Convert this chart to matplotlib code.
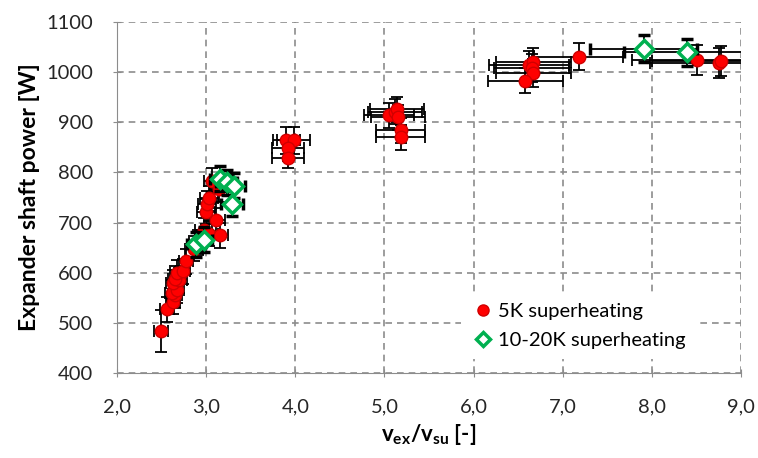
import matplotlib
matplotlib.use("Agg")
import matplotlib.pyplot as plt

plt.rcParams['font.family'] = ['Lato', 'DejaVu Sans']
plt.rcParams['mathtext.fontset'] = 'custom'
plt.rcParams['mathtext.rm'] = 'Lato'
plt.rcParams['mathtext.bf'] = 'Lato:bold'

# 5K superheating
red_x = [2.49, 2.56, 2.63, 2.65, 2.62, 2.67, 2.63, 2.70, 2.65, 2.67, 2.74, 2.77,
         2.86, 2.91, 2.97, 3.03, 3.15, 3.11, 3.00, 3.01, 3.03, 3.07, 3.14,
         3.90, 3.98, 3.92, 3.92,
         5.05, 5.12, 5.14, 5.15, 5.18, 5.18,
         6.62, 6.67, 6.65, 6.67, 6.58, 7.18, 8.51, 8.75, 8.77]
red_y = [484, 527, 542, 555, 560, 565, 580, 585, 588, 600, 603, 623,
         648, 660, 685, 678, 675, 705, 722, 737, 748, 783, 766,
         864, 864, 848, 828,
         914, 921, 926, 910, 884, 870,
         1014, 1021, 1008, 998, 983, 1031, 1024, 1019, 1022]
red_xerr = [0.08] * 12 + [0.1] * 11 + [0.15, 0.18, 0.18, 0.18] + \
           [0.28, 0.3, 0.3, 0.3, 0.28, 0.28] + \
           [0.45, 0.42, 0.42, 0.42, 0.42, 0.5, 0.73, 0.77, 0.77]
red_yerr = [42] + [25] * 22 + [27, 27, 25, 20] + [25] * 6 + \
           [28, 28, 28, 28, 25, 27, 30, 30, 30]

# 10-20K superheating
green_x = [2.89, 2.97, 3.16, 3.23, 3.31, 3.29, 7.91, 8.39]
green_y = [657, 666, 787, 780, 773, 738, 1047, 1040]
green_xerr = [0.1, 0.1, 0.12, 0.12, 0.12, 0.12, 0.6, 0.7]
green_yerr = [25, 25, 25, 25, 25, 25, 27, 27]

x_ticks = [2, 3, 4, 5, 6, 7, 8, 9]
x_labels = ["2,0", "3,0", "4,0", "5,0", "6,0", "7,0", "8,0", "9,0"]
y_ticks = [400, 500, 600, 700, 800, 900, 1000, 1100]

fig = plt.figure(figsize=(7.58, 4.58), dpi=100)
ax = fig.add_axes([0.1544, 0.1856, 0.8232, 0.7664])

ax.errorbar(red_x, red_y, xerr=red_xerr, yerr=red_yerr, fmt='o',
            color='#FF0000', markeredgecolor='#D00000', markersize=9,
            ecolor='black', elinewidth=1.3, capsize=4.5, capthick=1.3, zorder=3)
ax.errorbar(green_x, green_y, xerr=green_xerr, yerr=green_yerr, fmt='D',
            color='#00B050', markerfacecolor='white', markeredgecolor='#00B050',
            markeredgewidth=2.5, markersize=9,
            ecolor='black', elinewidth=1.3, capsize=4.5, capthick=1.3, zorder=4)

ax.set_xlim(2, 9)
ax.set_ylim(400, 1100)
ax.set_xticks(x_ticks)
ax.set_xticklabels(x_labels)
ax.set_yticks(y_ticks)

ax.grid(True, color='#8c8c8c', linestyle=(0, (4, 3)), linewidth=1.2)
ax.set_axisbelow(True)
for s in ['top', 'right']:
    ax.spines[s].set_visible(False)
for s in ['left', 'bottom']:
    ax.spines[s].set_color('#8c8c8c')
ax.tick_params(direction='inout', length=6, color='#8c8c8c',
               labelsize=14.5, labelcolor='#262626')
ax.tick_params(axis='x', pad=15)
ax.tick_params(axis='y', pad=14)

ax.set_ylabel("Expander shaft power [W]", fontsize=16.5, fontweight='bold', labelpad=5)
ax.set_xlabel(r"$\mathbf{v_{ex}/v_{su}}$ [-]", fontsize=16, fontweight='bold', labelpad=5)

h1, = ax.plot([], [], 'o', color='#FF0000', markeredgecolor='#D00000', markersize=8)
h2, = ax.plot([], [], 'D', markerfacecolor='white', markeredgecolor='#00B050',
              markeredgewidth=2.5, markersize=7)
leg = ax.legend([h1, h2], ["5K superheating", "10-20K superheating"],
                loc='center left', bbox_to_anchor=(0.551, 0.134), fontsize=14.5,
                frameon=True, handletextpad=0.15, handlelength=1.2,
                borderpad=0.5, labelspacing=0.6, borderaxespad=0)
leg.get_frame().set_edgecolor('none')
leg.get_frame().set_facecolor('white')
leg.get_frame().set_alpha(1)
leg.set_zorder(10)

# widen the white legend area to the left, as in the original
fig.canvas.draw()
bb = leg.get_window_extent()
leg.get_frame().set_bounds(bb.x0 - 20, bb.y0, bb.width + 20, bb.height)

fig.savefig("out.png", dpi=100)
